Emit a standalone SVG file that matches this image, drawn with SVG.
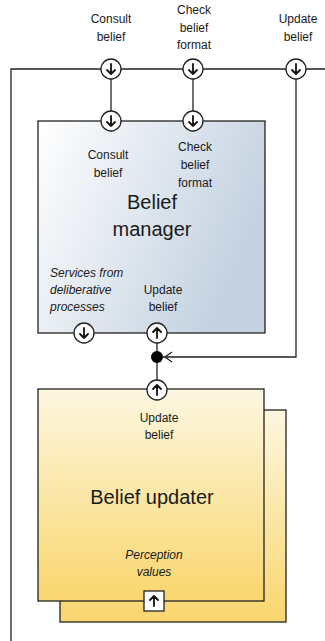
<svg xmlns="http://www.w3.org/2000/svg" width="325" height="641" viewBox="0 0 325 641">
  <style>
    text { font-family: "Liberation Sans", Arial, sans-serif; fill: #1a1a1a; }
    .lbl { font-size: 12px; text-anchor: middle; }
    .ital { font-size: 12px; font-style: italic; }
    .big { font-size: 20px; text-anchor: middle; }
    .wire { fill: none; stroke: #222; stroke-width: 1.3; }
    .box { stroke: #222; stroke-width: 1.3; }
    .port { fill: #fff; stroke: #222; stroke-width: 1.3; }
    .arr { fill: none; stroke: #111; stroke-width: 1.8; stroke-linecap: round; stroke-linejoin: round; }
  </style>
  <defs>
    <linearGradient id="blueFill" x1="0" y1="0" x2="1" y2="0.4">
      <stop offset="0" stop-color="#ffffff"/>
      <stop offset="1" stop-color="#c3d1e0"/>
    </linearGradient>
    <linearGradient id="yellowFill" x1="0" y1="0" x2="0" y2="1">
      <stop offset="0" stop-color="#fdf7e0"/>
      <stop offset="1" stop-color="#f9d66e"/>
    </linearGradient>
    <!-- port glyphs: circle with arrow pointing down / up -->
    <g id="portDown">
      <circle r="10" class="port"/>
      <path class="arr" d="M0,-5 V5 M-4,1 L0,5 L4,1"/>
    </g>
    <g id="portUp">
      <circle r="10" class="port"/>
      <path class="arr" d="M0,5 V-5 M-4,-1 L0,-5 L4,-1"/>
    </g>
  </defs>

  <!-- connectors -->
  <g id="connectors">
    <path class="wire" d="M11,641 V69 H325"/>
    <path class="wire" d="M111,69 V121"/>
    <path class="wire" d="M193,69 V121"/>
    <path class="wire" d="M296,69 V357 H163"/>
    <path class="wire" d="M172,352 L165,357 L172,362"/>
    <path class="wire" d="M157,333 V390"/>
    <circle cx="157" cy="357" r="6" fill="#000"/>
  </g>

  <!-- top interface labels -->
  <g id="top-ports">
    <text class="lbl" x="111" y="23">Consult</text>
    <text class="lbl" x="111" y="41">belief</text>
    <text class="lbl" x="194" y="14">Check</text>
    <text class="lbl" x="194" y="32">belief</text>
    <text class="lbl" x="194" y="49">format</text>
    <text class="lbl" x="298" y="23">Update</text>
    <text class="lbl" x="298" y="41">belief</text>
    <use href="#portDown" x="111" y="69"/>
    <use href="#portDown" x="193" y="69"/>
    <use href="#portDown" x="296" y="69"/>
  </g>

  <!-- belief manager -->
  <g id="belief-manager">
    <rect class="box" x="38" y="121" width="227" height="212" fill="url(#blueFill)"/>
    <text class="lbl" x="108" y="159">Consult</text>
    <text class="lbl" x="108" y="177">belief</text>
    <text class="lbl" x="195" y="151">Check</text>
    <text class="lbl" x="195" y="169">belief</text>
    <text class="lbl" x="195" y="187">format</text>
    <text class="big" x="152" y="209">Belief</text>
    <text class="big" x="152" y="236">manager</text>
    <text class="ital" x="50" y="277">Services from</text>
    <text class="ital" x="50" y="294">deliberative</text>
    <text class="ital" x="50" y="311">processes</text>
    <text class="lbl" x="163" y="294">Update</text>
    <text class="lbl" x="163" y="311">belief</text>
    <use href="#portDown" x="111" y="121"/>
    <use href="#portDown" x="193" y="121"/>
    <use href="#portDown" x="84" y="333"/>
    <use href="#portUp" x="157" y="333"/>
  </g>

  <!-- belief updater (stacked instances) -->
  <g id="belief-updater">
    <rect class="box" x="60" y="410" width="226" height="212" fill="url(#yellowFill)"/>
    <rect class="box" x="38" y="389" width="226" height="212" fill="url(#yellowFill)"/>
    <text class="lbl" x="159" y="422">Update</text>
    <text class="lbl" x="159" y="439">belief</text>
    <text class="big" x="152" y="504">Belief updater</text>
    <text class="ital" x="154" y="559" text-anchor="middle">Perception</text>
    <text class="ital" x="154" y="576" text-anchor="middle">values</text>
    <use href="#portUp" x="157" y="390"/>
    <rect class="port" x="144" y="591" width="20" height="20"/>
    <path class="arr" d="M154,606 V596 M150,600 L154,596 L158,600"/>
  </g>
</svg>
